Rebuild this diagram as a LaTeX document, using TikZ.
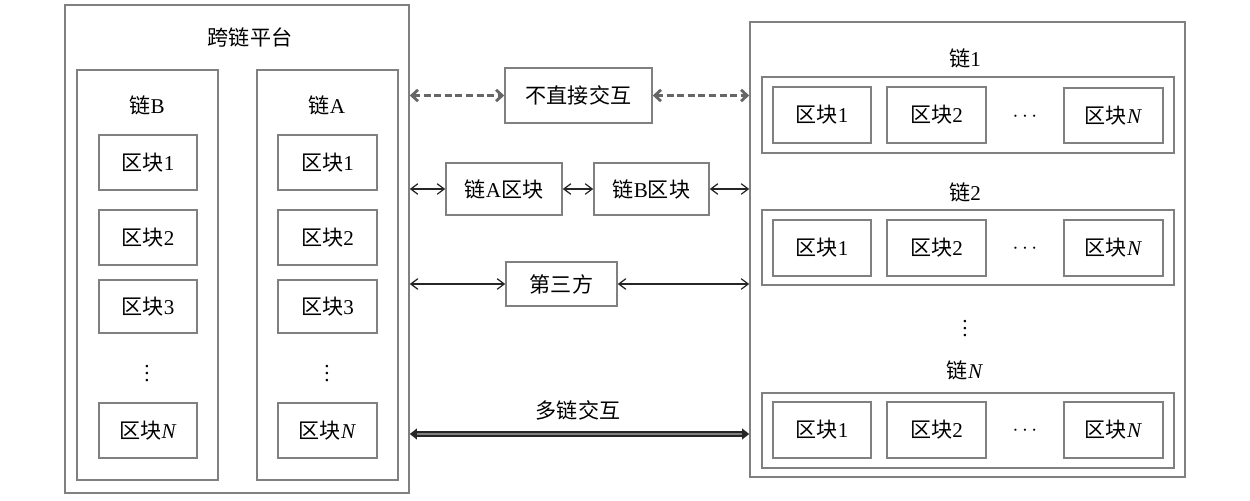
\documentclass[tikz,border=0pt]{standalone}
\usepackage{fontspec}
\setmainfont{Liberation Serif}
\newfontfamily\cjk{Noto Sans CJK SC}
\usetikzlibrary{arrows.meta}
\newcommand\zh[1]{{\cjk #1}}
\newcommand\bk[6]{\node[box, minimum width={(#4-#2)*0.02cm}, minimum height={(#5-#3)*0.02cm}] (#1) at ({(#2+#4)/2},{(#3+#5)/2}) {#6};}
\begin{document}
\begin{tikzpicture}[x=0.02cm,y=-0.02cm,
  every node/.style={font=\fontsize{12}{14}\selectfont},
  box/.style={draw=black!50, line width=0.9pt, inner sep=0pt},
  lbl/.style={inner sep=0pt},
  arr/.style={draw=black!85, line width=0.7pt, {Straight Barb[length=4pt,width=6pt]}-{Straight Barb[length=4pt,width=6pt]}},
  dasharr/.style={draw=black!60, line width=1.6pt, dash pattern=on 4pt off 2pt, {Straight Barb[length=3.5pt,width=6.5pt]}-{Straight Barb[length=3.5pt,width=6.5pt]}},
  dblarr/.style={draw=black!85, line width=1pt, double=black!50, double distance=1.6pt, {Triangle[length=4pt,width=6pt]}-{Triangle[length=4pt,width=6pt]}}
]
\useasboundingbox (0,0) rectangle (1250,500);

% left platform
\bk{plat}{65}{5}{409}{493}{}
\node[lbl] (platT) at (250,37) {\zh{跨链平台}};
\bk{chB}{77}{70}{218}{480}{}
\node[lbl] (chBT) at (147,105) {\zh{链}B};
\bk{chA}{257}{70}{398}{480}{}
\node[lbl] (chAT) at (327,105) {\zh{链}A};

\bk{b1}{99}{135}{197}{190}{\zh{区块}1}
\bk{b2}{99}{210}{197}{265}{\zh{区块}2}
\bk{b3}{99}{280}{197}{333}{\zh{区块}3}
\node[lbl] (bd) at (147,368) {$\vdots$};
\bk{bN}{99}{403}{197}{458}{\zh{区块}\textit{N}}

\bk{a1}{278}{135}{377}{190}{\zh{区块}1}
\bk{a2}{278}{210}{377}{265}{\zh{区块}2}
\bk{a3}{278}{280}{377}{333}{\zh{区块}3}
\node[lbl] (ad) at (327,368) {$\vdots$};
\bk{aN}{278}{403}{377}{458}{\zh{区块}\textit{N}}

% right multi-chain
\bk{R}{750}{22}{1185}{477}{}
\node[lbl] (c1T) at (965,58) {\zh{链}1};
\bk{c1}{762}{77}{1174}{153}{}
\bk{c1b1}{773}{87}{871}{143}{\zh{区块}1}
\bk{c1b2}{887}{87}{986}{143}{\zh{区块}2}
\node[lbl] (c1d) at (1025,117) {$\cdots$};
\bk{c1bN}{1064}{88}{1163}{143}{\zh{区块}\textit{N}}

\node[lbl] (c2T) at (965,192) {\zh{链}2};
\bk{c2}{762}{210}{1174}{285}{}
\bk{c2b1}{773}{220}{871}{276}{\zh{区块}1}
\bk{c2b2}{887}{220}{986}{276}{\zh{区块}2}
\node[lbl] (c2d) at (1025,249) {$\cdots$};
\bk{c2bN}{1064}{220}{1163}{276}{\zh{区块}\textit{N}}

\node[lbl] (vd) at (965,323) {$\vdots$};

\node[lbl] (cNT) at (965,370) {\zh{链}\textit{N}};
\bk{cN}{762}{393}{1174}{468}{}
\bk{cNb1}{773}{402}{871}{458}{\zh{区块}1}
\bk{cNb2}{887}{402}{986}{458}{\zh{区块}2}
\node[lbl] (cNd) at (1025,431) {$\cdots$};
\bk{cNbN}{1064}{402}{1163}{458}{\zh{区块}\textit{N}}

% middle
\bk{ind}{505}{68}{652}{123}{\zh{不直接交互}}
\draw[dasharr] (plat.east |- ind.west) -- (ind.west);
\draw[dasharr] (ind.east) -- (R.west |- ind.east);

\bk{ba}{446}{163}{562}{215}{\zh{链}A\zh{区块}}
\bk{bb}{594}{163}{709}{215}{\zh{链}B\zh{区块}}
\draw[arr] (plat.east |- ba.west) -- (ba.west);
\draw[arr] (ba.east) -- (bb.west);
\draw[arr] (bb.east) -- (R.west |- bb.east);

\bk{tp}{506}{262}{617}{306}{\zh{第三方}}
\draw[arr] (plat.east |- tp.west) -- (tp.west);
\draw[arr] (tp.east) -- (R.west |- tp.east);

\node[lbl] (mT) at (578,410) {\zh{多链交互}};
\coordinate (m) at (578,434);
\draw[dblarr] (plat.east |- m) -- (R.west |- m);
\end{tikzpicture}
\end{document}
